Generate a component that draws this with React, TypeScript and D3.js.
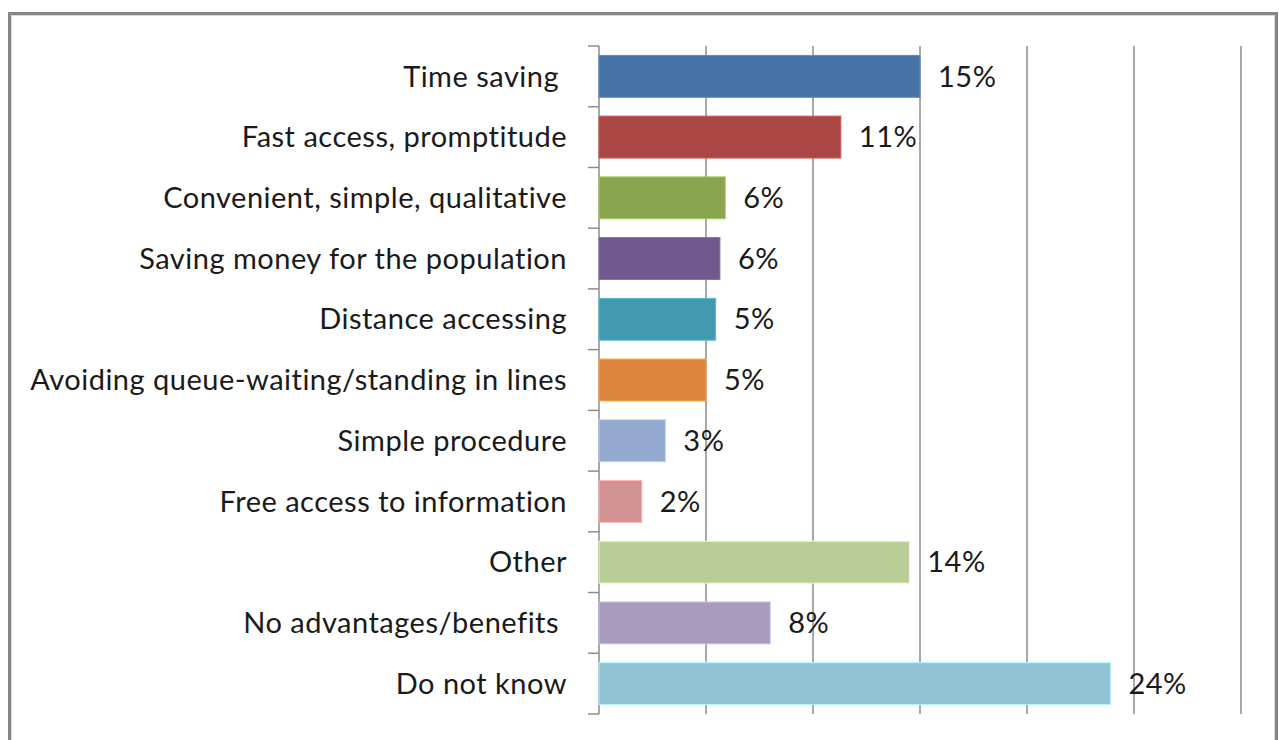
import React from "react";
import * as d3 from "d3";

const categories = [
  "Time saving ",
  "Fast access, promptitude",
  "Convenient, simple, qualitative",
  "Saving money for the population",
  "Distance accessing",
  "Avoiding queue-waiting/standing in lines",
  "Simple procedure",
  "Free access to information",
  "Other",
  "No advantages/benefits ",
  "Do not know",
];
const values = [15.0, 11.3, 5.9, 5.65, 5.45, 5.0, 3.1, 2.0, 14.5, 8.0, 23.9];
const valueLabels = ["15%", "11%", "6%", "6%", "5%", "5%", "3%", "2%", "14%", "8%", "24%"];
const colors = [
  "#4572A7", "#AA4643", "#89A54E", "#71588F", "#4198AF", "#DB843D",
  "#93A9CF", "#D19392", "#B9CD96", "#A99BBD", "#92C3D4",
];
const xTicks = [0, 5, 10, 15, 20, 25, 30];

const W = 1279;
const H = 740;
const left = 599;
const right = 1241;
const top = 46;
const bottom = 714;
const FONT = "Lato, 'Open Sans', sans-serif";

export default function App() {
  const x = d3.scaleLinear().domain([0, 30]).range([left, right]);
  const y = d3.scaleBand<string>().domain(categories).range([top, bottom]).paddingInner(0.31).paddingOuter(0.155);
  const yOuter = d3.scaleBand<string>().domain(categories).range([top, bottom]);
  const boundaries = categories.map((c) => yOuter(c) as number).concat([bottom]);
  return (
    <svg width={W} height={H} style={{ position: "absolute", left: 0, top: 0, background: "#fff" }}>
      <rect x={9.5} y={13.5} width={1267} height={760} fill="#fff" stroke="#868686" strokeWidth={3} />
      <rect x={11.5} y={15.5} width={1263} height={760} fill="none" stroke="#d9d9d9" strokeWidth={1} />
      {xTicks.map((t) => (
        <line key={t} x1={x(t)} x2={x(t)} y1={top} y2={bottom} stroke="#8c8c8c" strokeWidth={1.5} />
      ))}
      {boundaries.map((b, i) => (
        <line key={i} x1={588} x2={left} y1={b} y2={b} stroke="#8c8c8c" strokeWidth={1.5} />
      ))}
      {categories.map((c, i) => {
        const y0 = y(c) as number;
        const bw = y.bandwidth();
        return (
          <g key={c}>
            <rect
              x={x(0)}
              y={y0}
              width={x(values[i]) - x(0)}
              height={bw}
              fill={colors[i]}
              stroke={d3.color(colors[i])!.brighter(0.6).formatHex()}
              strokeWidth={1}
            />
            <text
              x={567}
              y={y0 + bw / 2}
              dy="0.35em"
              textAnchor="end"
              fontFamily={FONT}
              fontSize={29}
              letterSpacing={0.5}
              fill="#1a1a1a"
              style={{ whiteSpace: "pre" }}
            >
              {c}
            </text>
            <text
              x={x(values[i]) + 18}
              y={y0 + bw / 2}
              dy="0.35em"
              fontFamily={FONT}
              fontSize={29}
              letterSpacing={0.5}
              fill="#1a1a1a"
            >
              {valueLabels[i]}
            </text>
          </g>
        );
      })}
    </svg>
  );
}
